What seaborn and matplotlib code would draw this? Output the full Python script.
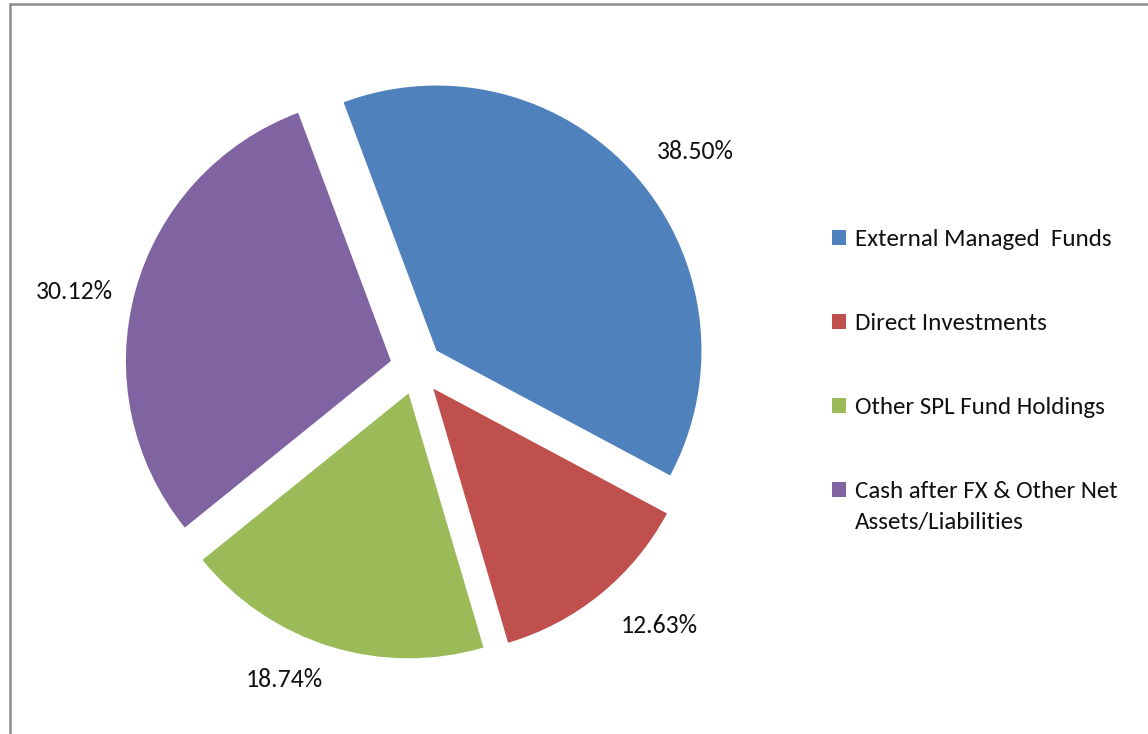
import matplotlib
matplotlib.use("Agg")
import numpy as np
import matplotlib.pyplot as plt
import matplotlib.patches as mpatches
from matplotlib.text import Annotation
import seaborn as sns

# Data
categories = ["External Managed  Funds", "Direct Investments",
              "Other SPL Fund Holdings", "Cash after FX & Other Net"]
last_label_line2 = "Assets/Liabilities"
shares = [38.50, 12.63, 18.74, 30.12]
colors = ["#4F81BD", "#C0504D", "#9BBB59", "#8064A2"]

# label placement tweaks (angle nudge in degrees, distance in radii)
label_nudge = [-3.6, 4.6, -6.2, 2.8]
label_dist = [1.232, 1.236, 1.178, 1.222]

sns.set_theme(style="white")
plt.rcParams['font.family'] = ['Carlito', 'Lato', 'DejaVu Sans']

W, H = 1148, 734
fig = plt.figure(figsize=(W / 100, H / 100), dpi=100)
ax = fig.add_axes([0, 0, 1, 1])

# pie: centre at (416, 368) px, radius 265 px
r_px = 265.0
cx, cy = 416.5, 368.0
wedges, texts, autotexts = ax.pie(
    shares, colors=sns.color_palette(colors), startangle=110.5,
    counterclock=False, explode=[0.1] * 4, radius=1,
    autopct=lambda p: f"{p:.2f}%", pctdistance=1.22,
    textprops=dict(fontsize=18.5, color="#111111"),
    wedgeprops=dict(linewidth=0))
ax.set_aspect("equal")
ax.set_xlim(-cx / r_px, (W - cx) / r_px)
ax.set_ylim(-(H - cy) / r_px, cy / r_px)
ax.axis("off")

# move percentage labels a little, as in the original chart
for w, t, nd, d in zip(wedges, autotexts, label_nudge, label_dist):
    mid = np.deg2rad((w.theta1 + w.theta2) / 2 + nd)
    x0, y0 = w.center
    t.set_position((x0 + d * np.cos(mid), y0 + d * np.sin(mid)))

leg = fig.legend(wedges, categories, loc="upper left",
                 bbox_to_anchor=(832 / W, 1 - 229 / H), frameon=False,
                 fontsize=18, labelspacing=2.52, handlelength=0.56,
                 handleheight=0.56, handletextpad=0.36, borderpad=0,
                 borderaxespad=0, labelcolor="#111111")

fig.canvas.draw()
# second line of the last legend entry, hung under the first line
line2 = Annotation(last_label_line2, xy=(0, 0),
                   xycoords=leg.get_texts()[-1], xytext=(0, -7),
                   textcoords="offset points", va="top", ha="left",
                   fontsize=18, color="#111111", zorder=6)
fig.add_artist(line2)

# outer chart frame (only left and top edges visible)
frame = mpatches.Rectangle((10 / W, -0.5), 2, 0.5 + 1 - 4 / H,
                           transform=fig.transFigure, fill=False,
                           edgecolor="#8c8c8c", linewidth=1.8)
fig.patches.append(frame)

fig.savefig("out.png", dpi=100)
